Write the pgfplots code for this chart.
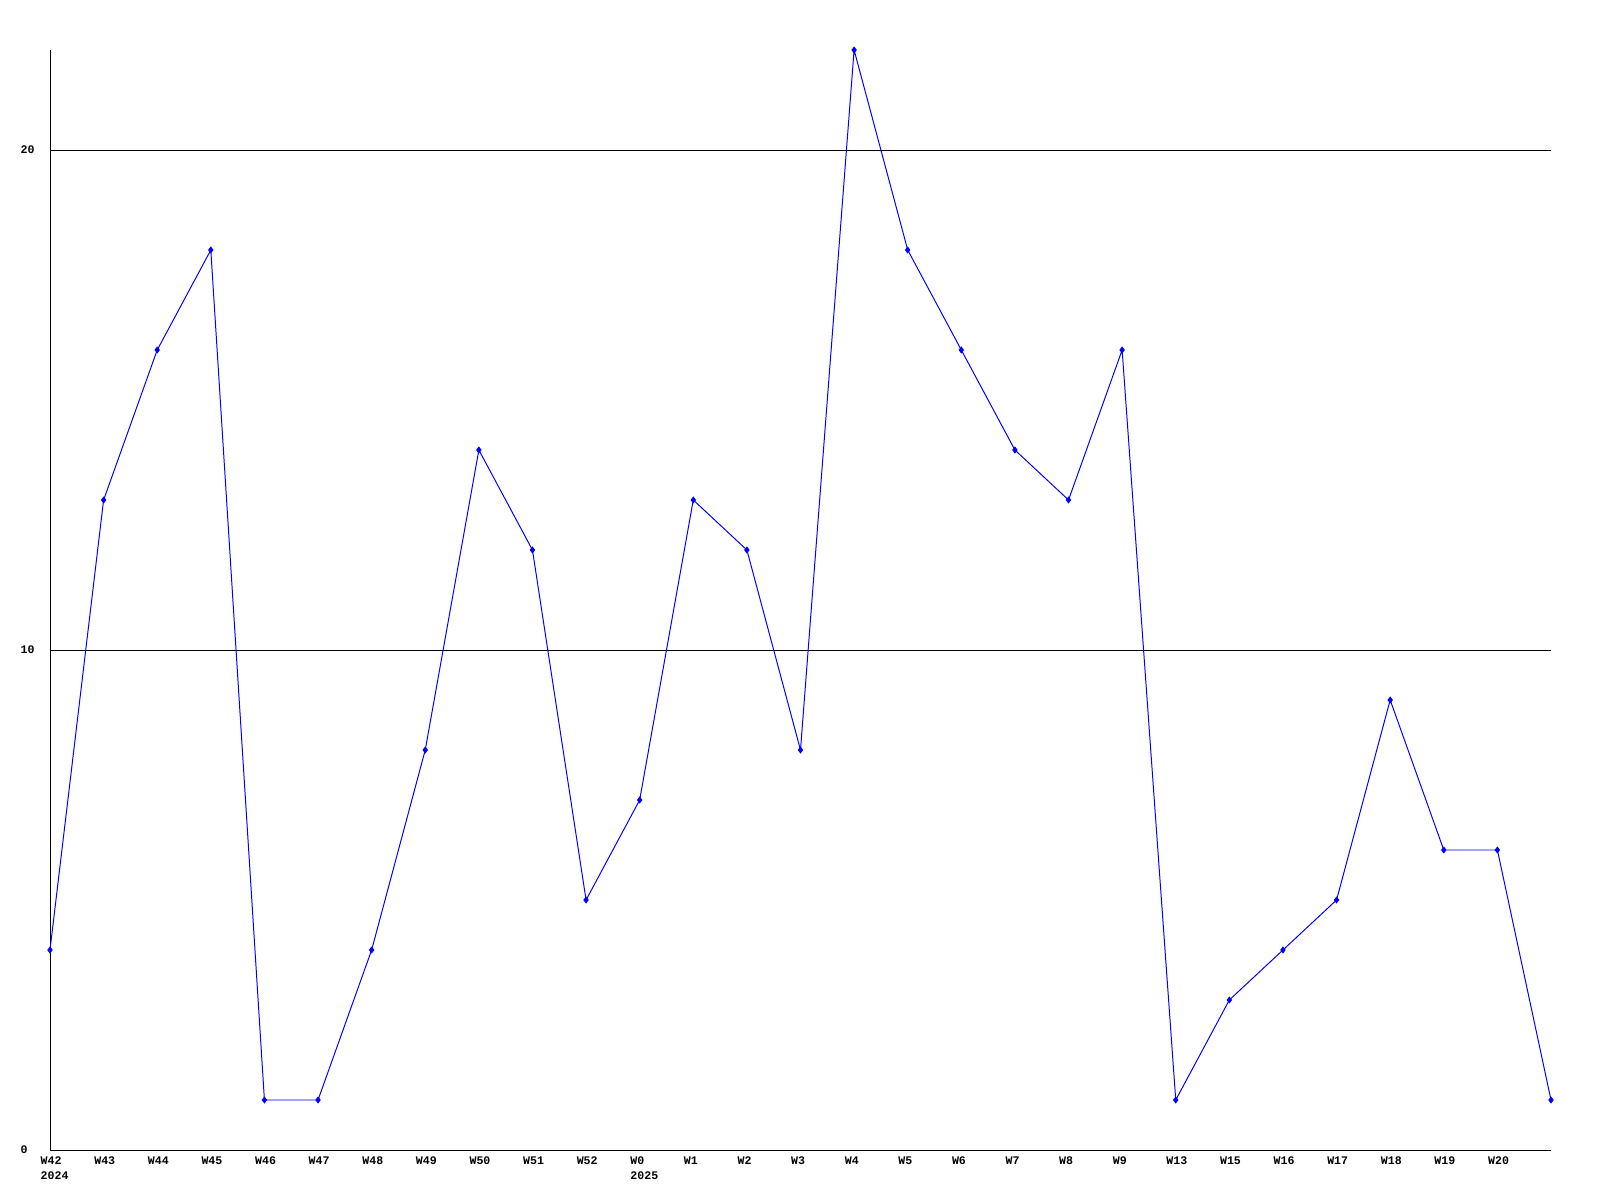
\documentclass[border=0pt]{standalone}
\usepackage{pgfplots}
\pgfplotsset{compat=1.18}
\usepackage{fontspec}
\setmainfont{Liberation Mono}
\begin{document}
\begin{tikzpicture}[x=0.1mm,y=0.1mm]
\useasboundingbox (0,0) rectangle (1600,1200);
\begin{axis}[
  at={(50mm/10,50mm/10)}, anchor=south west,
  scale only axis, width=150.1mm, height=110mm,
  xmin=0, xmax=28, ymin=0, ymax=22,
  axis x line*=bottom, axis y line*=left,
  axis line style={black, line width=0.28pt, -},
  xtick={0,...,27},
  xticklabels={W42\\2024,W43,W44,W45,W46,W47,W48,W49,W50,W51,W52,W0\\2025,W1,W2,W3,W4,W5,W6,W7,W8,W9,W13,W15,W16,W17,W18,W19,W20},
  ytick={0,10,20},
  major tick length=0pt,
  ymajorgrids, grid style={black, line width=0.25pt},
  xticklabel style={font=\fontsize{3.3}{4.3}\selectfont\bfseries, align=left, anchor=north west, xshift=-1.0mm, yshift=-0.6mm, inner sep=0pt},
  yticklabel style={font=\fontsize{3.3}{4.3}\selectfont\bfseries, anchor=west, xshift=-3.0mm, inner sep=0pt},
  /pgf/number format/assume math mode=true,
  clip=false,
]
\addplot[blue, line width=0.28pt, mark=diamond*, mark size=0.28mm, mark options={fill=blue}] coordinates {
(0,4) (1,13) (2,16) (3,18) (4,1) (5,1) (6,4) (7,8) (8,14) (9,12) (10,5)
(11,7) (12,13) (13,12) (14,8) (15,22) (16,18) (17,16) (18,14) (19,13) (20,16)
(21,1) (22,3) (23,4) (24,5) (25,9) (26,6) (27,6) (28,1)
};
\end{axis}
\end{tikzpicture}
\end{document}
